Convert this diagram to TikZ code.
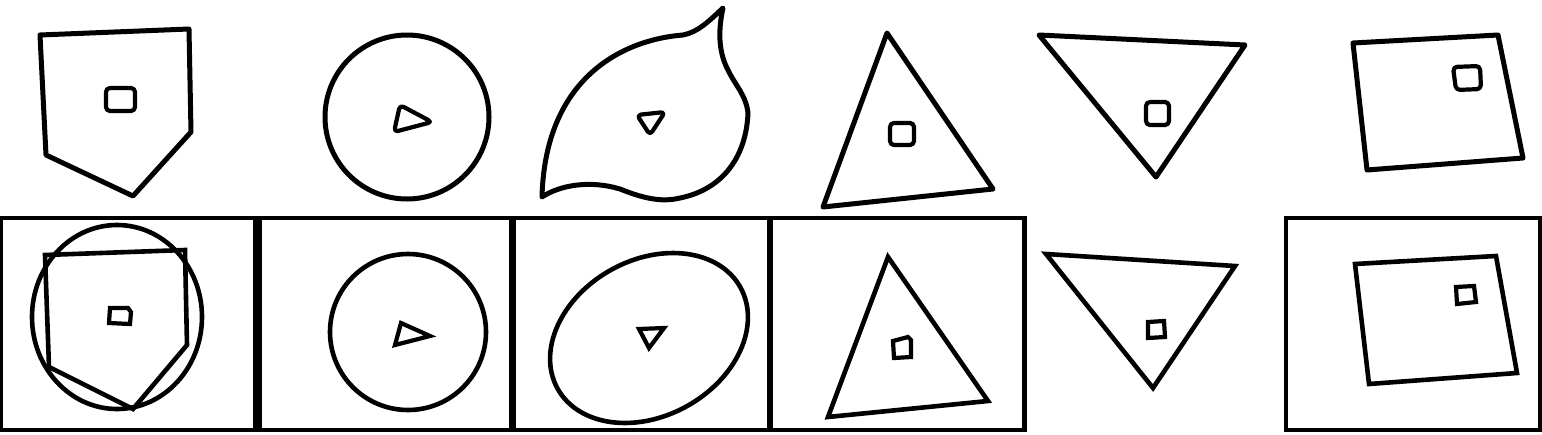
\documentclass[tikz,border=0pt]{standalone}
\usepackage{tikz}
\tikzset{
  sketch/.style     = {draw=black, line width=5pt, line join=round, line cap=round},
  sketchcore/.style = {sketch, line width=4.2pt, rounded corners=4pt},
  fitted/.style     = {draw=black, line width=4.6pt, line join=miter},
  fittedcore/.style = {fitted, line width=4.2pt},
}
\begin{document}
\begin{tikzpicture}[x=1pt, y=-1pt]
  \useasboundingbox (0,0) rectangle (1542,434);

  %% ---- top row: the raw strokes --------------------------------------------
  % pentagon
  \draw[sketch] (40,35) -- (189,29) -- (191,132) -- (133,196) -- (46,155) -- cycle;
  \draw[sketchcore] (106,88) rectangle (135,111);
  % circle
  \draw[sketch] (407,117) circle [radius=82];
  \draw[sketchcore] (400,105) -- (432,122) -- (394,132) -- cycle;
  % leaf
  \draw[sketch] (542,197) .. controls (560,185) and (590,180) .. (620,189)
    .. controls (640,197) and (660,203) .. (680,198)
    .. controls (720,190) and (746,160) .. (748,113)
    .. controls (746,95) and (735,85) .. (728,70)
    .. controls (720,55) and (717,35) .. (723,8)
    .. controls (708,22) and (698,32) .. (683,35)
    .. controls (620,40) and (545,80) .. (542,197) -- cycle;
  \draw[sketchcore] (637,115) -- (665,112) -- (650,135) -- cycle;
  % triangle
  \draw[sketch] (887,33) -- (993,189) -- (823,207) -- cycle;
  \draw[sketchcore] (890,123) rectangle (914,145);
  % inverted triangle
  \draw[sketch] (1039,35) -- (1245,45) -- (1156,177) -- cycle;
  \draw[sketchcore] (1146,102) rectangle (1169,125);
  % quad
  \draw[sketch] (1353,43) -- (1498,35) -- (1523,158) -- (1367,170) -- cycle;
  \draw[sketchcore] (1453,67) -- (1480,66) -- (1481,89) -- (1456,90) -- cycle;

  %% ---- bottom row: frames ----------------------------------------------------
  \fill[black] (0,216) rectangle (1027,432);
  \fill[black] (1284,216) rectangle (1542,432);
  \foreach \l/\r in {3/253, 262/509, 516/767, 773/1022, 1288/1538} {
    \fill[white] (\l,220) rectangle (\r,428);
  }

  %% ---- bottom row: the fitted shapes -----------------------------------------
  \draw[fitted] (117,317) ellipse [x radius=85, y radius=92];
  \draw[fitted] (45,255) -- (185,250) -- (187,345) -- (133,409) -- (49,367) -- cycle;
  \draw[fittedcore] (110,308) -- (128,308) -- (131,312) -- (130,324) -- (109,323) -- cycle;

  \draw[fitted] (408,332) circle [radius=78];
  \draw[fittedcore] (401,323) -- (430,336) -- (395,345) -- cycle;

  \draw[fitted, rotate around={29:(649,338)}] (649,338) ellipse [x radius=104.5, y radius=78];
  \draw[fittedcore] (639,329) -- (664,328) -- (649,348) -- cycle;

  \draw[fitted] (888,257) -- (988,401) -- (828,417) -- cycle;
  \draw[fittedcore] (893,341) -- (908,337) -- (911,340) -- (911,357) -- (894,358) -- cycle;

  \draw[fitted] (1046,254) -- (1235,266) -- (1153,388) -- cycle;
  \draw[fittedcore] (1148,322) -- (1164,321) -- (1165,337) -- (1148,338) -- cycle;

  \draw[fitted] (1355,264) -- (1496,256) -- (1517,373) -- (1369,384) -- cycle;
  \draw[fittedcore] (1456,287) -- (1474,286) -- (1476,302) -- (1457,304) -- cycle;
\end{tikzpicture}
\end{document}
